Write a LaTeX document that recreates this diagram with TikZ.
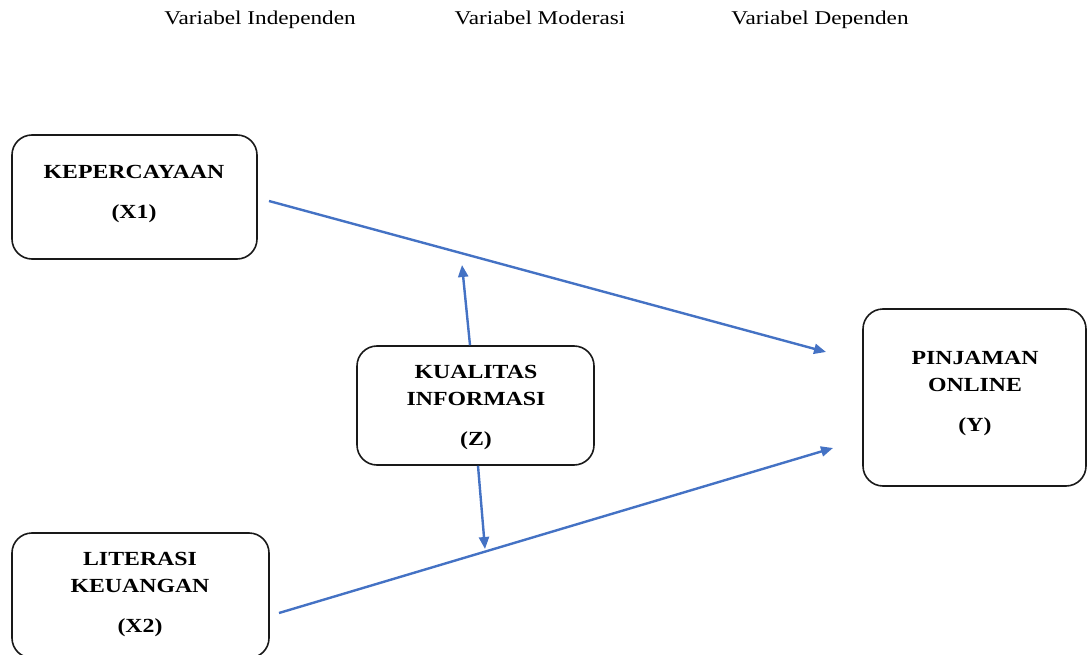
\documentclass[tikz,border=0pt]{standalone}
\usepackage{fontspec}
\setmainfont{Liberation Serif}
\usetikzlibrary{arrows.meta}
\definecolor{arrowblue}{HTML}{4472C4}
\newcommand\hs[1]{\scalebox{1.19}[1]{#1}}
\begin{document}
\begin{tikzpicture}[x=1pt,y=-1pt,
 box/.style={draw=black!90, line width=1.6pt, rounded corners=20pt, inner sep=0pt},
 lbl/.style={font=\bfseries\fontsize{20}{27}\selectfont, align=center, inner sep=0pt},
 head/.style={font=\fontsize{19.5}{23}\selectfont, inner sep=0pt, anchor=base},
 arr/.style={draw=arrowblue, line width=2.4pt, -{Triangle[length=12pt,width=10pt]}}]
\useasboundingbox (0,0) rectangle (1087,655);
% headers
\node[head] (h1) at (260,25) {\hs{Variabel Independen}};
\node[head] (h2) at (540,25) {\hs{Variabel Moderasi}};
\node[head] (h3) at (820,25) {\hs{Variabel Dependen}};
% boxes
\node[box, minimum width=245pt, minimum height=124pt] (x1) at (134.5,197) {};
\node[box, minimum width=237pt, minimum height=119pt] (z) at (475.5,405.5) {};
\node[box, minimum width=223pt, minimum height=177pt] (y) at (974.5,397.5) {};
\node[box, minimum width=257pt, minimum height=125pt] (x2) at (140.5,595.5) {};
% texts
\node[lbl] (tx1) at (134,194) {\hs{KEPERCAYAAN}\\[13pt]\hs{(X1)}};
\node[lbl] (tz) at (476,407.5) {\hs{KUALITAS}\\\hs{INFORMASI}\\[13pt]\hs{(Z)}};
\node[lbl] (ty) at (975,393.5) {\hs{PINJAMAN}\\\hs{ONLINE}\\[13pt]\hs{(Y)}};
\node[lbl] (tx2) at (140,594.5) {\hs{LITERASI}\\\hs{KEUANGAN}\\[13pt]\hs{(X2)}};
% connector ends
\coordinate (a1s) at (269,201);
\coordinate (a1e) at (826,352);
\coordinate (a2s) at (279,613);
\coordinate (a2e) at (833,448);
\coordinate (zu) at (462,265);
\coordinate (zd) at (485,549);
\draw[arr] (a1s) -- (a1e);
\draw[arr] (a2s) -- (a2e);
\draw[arr] ([xshift=-5.5pt]z.north) -- (zu);
\draw[arr] ([xshift=2.5pt]z.south) -- (zd);
\end{tikzpicture}
\end{document}
